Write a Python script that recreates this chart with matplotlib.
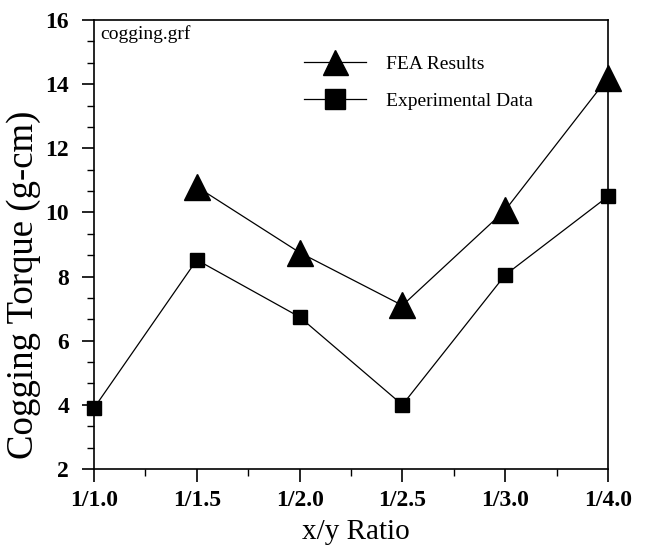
import matplotlib
matplotlib.use("Agg")
import matplotlib.pyplot as plt
from matplotlib.lines import Line2D
from matplotlib.ticker import AutoMinorLocator, MultipleLocator

ratios = ["1/1.0", "1/1.5", "1/2.0", "1/2.5", "1/3.0", "1/4.0"]
fea_x = [1, 2, 3, 4, 5]
fea = [10.8, 8.75, 7.1, 10.07, 14.2]
exp_x = [0, 1, 2, 3, 4, 5]
exp = [3.9, 8.52, 6.74, 4.0, 8.05, 10.5]

plt.rcParams['font.family'] = ['Liberation Serif', 'DejaVu Serif']

fig = plt.figure(figsize=(6.47, 5.48), dpi=100)
ax = fig.add_axes([94/647, 1-469/548, (608-94)/647, (469-20)/548])

ax.plot(fea_x, fea, color='black', lw=0.9, marker='^', ms=19, clip_on=False, zorder=3)
ax.plot(exp_x, exp, color='black', lw=0.9, marker='s', ms=10, clip_on=False, zorder=3)

ax.set_xlim(0, 5)
ax.set_ylim(2, 16)
ax.set_xticks(range(len(ratios)))
ax.set_xticklabels(ratios)
ax.xaxis.set_minor_locator(AutoMinorLocator(2))
ax.yaxis.set_major_locator(MultipleLocator(2))
ax.yaxis.set_minor_locator(AutoMinorLocator(3))
ax.tick_params(which='major', direction='out', length=9, width=1.2, labelsize=17)
ax.tick_params(axis='y', which='major', pad=9)
ax.tick_params(axis='x', which='major', pad=6)
ax.tick_params(which='minor', direction='out', length=5, width=1.0)
for lab in ax.get_xticklabels() + ax.get_yticklabels():
    lab.set_fontweight('bold')
for sp in ax.spines.values():
    sp.set_linewidth(1.2)

fig.text(24/647, 1-285/548, "Cogging Torque (g-cm)", fontsize=26.5,
         rotation=90, ha='center', va='center')
fig.text(356/647, 1-532/548, "x/y Ratio", fontsize=21,
         ha='center', va='center')

ax.text(0.012, 0.988, "cogging.grf", transform=ax.transAxes, fontsize=14,
        va='top', ha='left')

handles = [
    Line2D([], [], color='black', lw=0.9, marker='^', ms=18),
    Line2D([], [], color='black', lw=0.9, marker='s', ms=15),
]
ax.legend(handles, ["FEA Results", "Experimental Data"], loc='upper left',
          bbox_to_anchor=(0.375, 0.96), frameon=False, fontsize=14,
          handlelength=3.2, handletextpad=1.0, labelspacing=1.0)

fig.savefig("out.png", dpi=100)
